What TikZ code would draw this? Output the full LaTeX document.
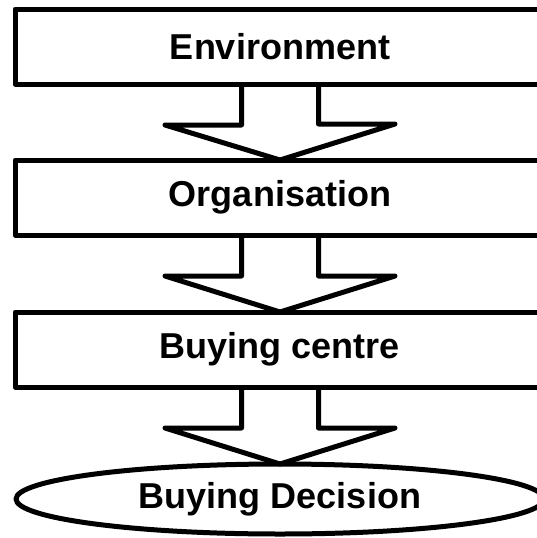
\documentclass[tikz,border=0pt]{standalone}
\usepackage{fontspec}
\setmainfont{Liberation Sans}
\usetikzlibrary{shapes.geometric,calc}
\begin{document}
\begin{tikzpicture}[x=1pt,y=-1pt,line width=5pt,line join=round,
  lbl/.style={font=\fontsize{36}{40}\selectfont\bfseries},
  box/.style={lbl,draw,minimum width=530pt,minimum height=75pt,inner sep=0pt,outer sep=0pt},
  oval/.style={lbl,draw,ellipse,minimum width=528pt,minimum height=70pt,inner sep=0pt,outer sep=0pt},
  fatarrow/.style={draw}]
\useasboundingbox (0,0) rectangle (537,538);
\node[box] (env) at (280,46.5) {Environment};
\node[box] (org) at (280,197.5) {Organisation};
\node[box] (buy) at (280,349.5) {Buying centre};
\node[oval] (dec) at (280,499) {Buying Decision};
\foreach \a/\b in {env/org,org/buy,buy/dec}{
  \draw[fatarrow] ($(\a.south)+(-38.5,0)$) -- ++(0,41) -- ++(-76.5,0) -- (\b.north)
    -- ++(115,-36) -- ++(-76.5,0) -- ++(0,-41);
}
\end{tikzpicture}
\end{document}
